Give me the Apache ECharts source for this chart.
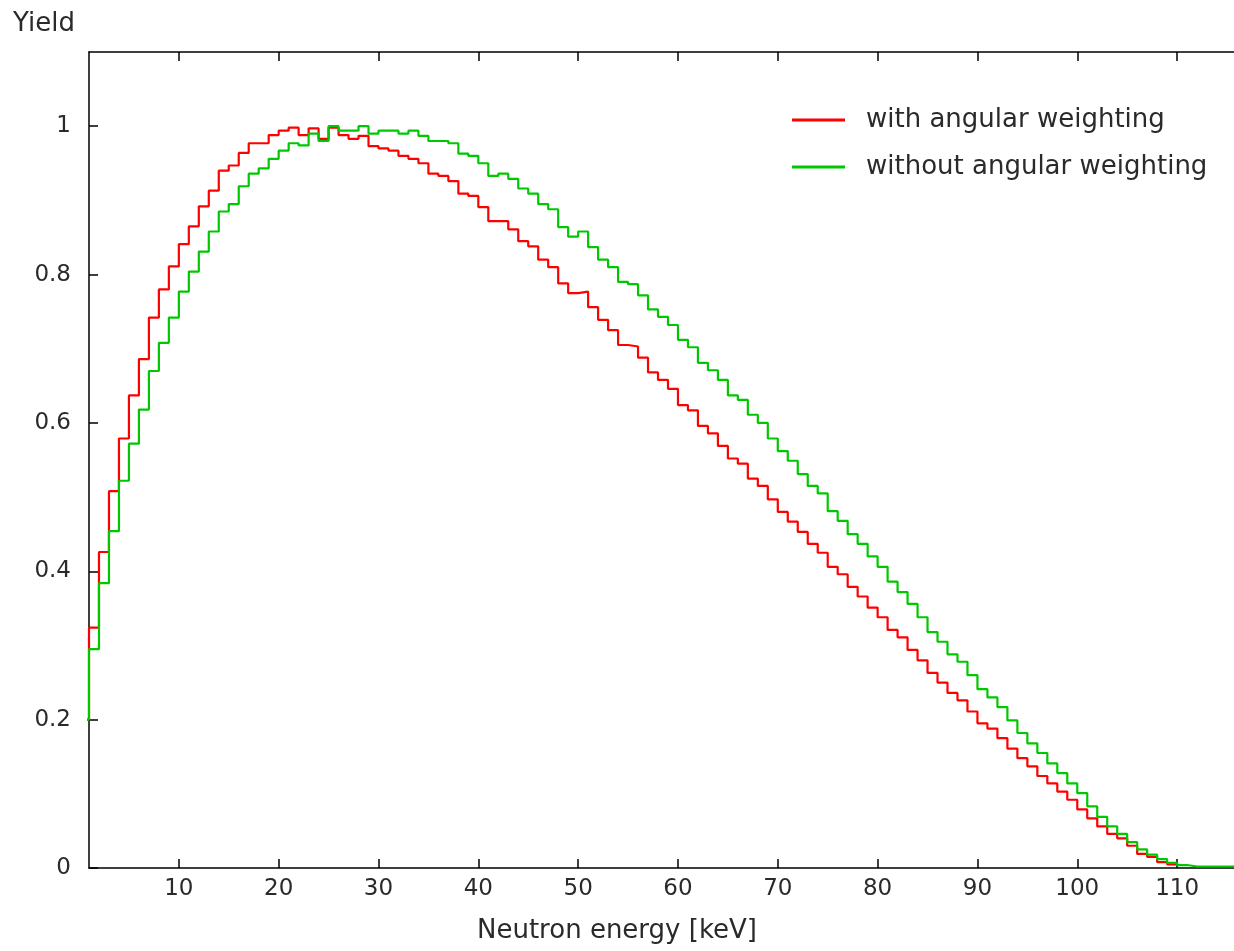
<!DOCTYPE html>
<html><head><meta charset="utf-8">
<script src="https://cdn.jsdelivr.net/npm/echarts@6/dist/echarts.min.js"></script>
<style>html,body{margin:0;padding:0;background:#fff}#c{width:1234px;height:951px}</style>
</head><body><div id="c"></div>
<script>
// Histogram bins: bin i spans [binStart + i*binWidth, binStart + (i+1)*binWidth] keV
const binStart = 0;
const binWidth = 1;

const seriesNames = ['with angular weighting', 'without angular weighting'];

const withAngular = [
  0.200, 0.324, 0.426, 0.508, 0.579, 0.637, 0.686, 0.742, 0.780, 0.811,
  0.841, 0.865, 0.892, 0.913, 0.940, 0.947, 0.964, 0.977, 0.977, 0.988,
  0.994, 0.998, 0.988, 0.997, 0.983, 0.998, 0.988, 0.983, 0.987, 0.973,
  0.970, 0.967, 0.960, 0.956, 0.950, 0.936, 0.933, 0.926, 0.909, 0.906,
  0.891, 0.872, 0.872, 0.861, 0.845, 0.838, 0.820, 0.810, 0.788, 0.775,
  0.777, 0.756, 0.739, 0.725, 0.705, 0.703, 0.688, 0.668, 0.658, 0.646,
  0.624, 0.617, 0.596, 0.586, 0.569, 0.552, 0.545, 0.525, 0.515, 0.497,
  0.480, 0.467, 0.453, 0.437, 0.425, 0.406, 0.396, 0.379, 0.366, 0.351,
  0.338, 0.321, 0.311, 0.294, 0.280, 0.263, 0.250, 0.236, 0.226, 0.211,
  0.195, 0.188, 0.175, 0.161, 0.148, 0.137, 0.124, 0.114, 0.103, 0.092,
  0.079, 0.067, 0.056, 0.046, 0.040, 0.030, 0.019, 0.015, 0.008, 0.005
];

const withoutAngular = [
  0.200, 0.295, 0.384, 0.454, 0.522, 0.572, 0.618, 0.670, 0.708, 0.742,
  0.777, 0.804, 0.831, 0.858, 0.885, 0.895, 0.919, 0.936, 0.943, 0.956,
  0.967, 0.977, 0.974, 0.990, 0.980, 1.000, 0.994, 0.994, 1.000, 0.990,
  0.994, 0.994, 0.990, 0.994, 0.987, 0.980, 0.980, 0.977, 0.963, 0.960,
  0.950, 0.933, 0.936, 0.929, 0.916, 0.909, 0.895, 0.888, 0.864, 0.851,
  0.858, 0.837, 0.820, 0.810, 0.790, 0.787, 0.772, 0.753, 0.743, 0.732,
  0.712, 0.702, 0.681, 0.671, 0.658, 0.637, 0.631, 0.611, 0.600, 0.579,
  0.562, 0.549, 0.531, 0.515, 0.505, 0.481, 0.468, 0.450, 0.437, 0.420,
  0.406, 0.386, 0.372, 0.356, 0.338, 0.318, 0.305, 0.288, 0.278, 0.260,
  0.241, 0.230, 0.217, 0.199, 0.182, 0.168, 0.155, 0.141, 0.128, 0.114,
  0.101, 0.083, 0.069, 0.056, 0.046, 0.035, 0.025, 0.018, 0.012, 0.007,
  0.004, 0.002, 0.002, 0.002, 0.002, 0.002, 0.002, 0.002
];

const xTicks = [10, 20, 30, 40, 50, 60, 70, 80, 90, 100, 110];
const yTicks = [0, 0.2, 0.4, 0.6, 0.8, 1];
const xMin = 1, xMax = 115.7;
const yMin = 0, yMax = 1.1;

function toSteps(vals) {
  const pts = vals.map((v, i) => [binStart + i * binWidth, v]);
  pts.push([binStart + vals.length * binWidth, vals[vals.length - 1]]);
  return pts;
}

const FONT = 'DejaVu Sans';
const TXT = '#2a2a2a';
const AX = {color: '#000', width: 1.5};
const chart = echarts.init(document.getElementById('c'), null, {renderer: 'canvas'});
chart.setOption({
  animation: false,
  backgroundColor: '#fff',
  title: [
    {text: 'Yield', left: 13, top: 11, padding: 0,
     textStyle: {fontFamily: FONT, fontSize: 26, fontWeight: 'normal', color: TXT}},
    {text: 'Neutron energy [keV]', left: 477, top: 918, padding: 0,
     textStyle: {fontFamily: FONT, fontSize: 26, fontWeight: 'normal', color: TXT}}
  ],
  grid: {left: 89, right: 0, top: 52, bottom: 83},
  legend: {
    orient: 'vertical', left: 792, top: 107, padding: 0,
    icon: 'rect', itemWidth: 53, itemHeight: 3, itemGap: 21,
    textStyle: {fontFamily: FONT, fontSize: 26, lineHeight: 26, color: TXT, padding: [0, 0, 0, 16]},
    data: seriesNames
  },
  xAxis: [
    {type: 'value', min: xMin, max: xMax, position: 'bottom',
     axisLine: {show: true, onZero: false, lineStyle: AX}, splitLine: {show: false},
     axisTick: {inside: true, length: 9, lineStyle: AX, customValues: xTicks},
     axisLabel: {customValues: xTicks, fontFamily: FONT, fontSize: 23, color: TXT, margin: 10}},
    {type: 'value', min: xMin, max: xMax, position: 'top',
     axisLine: {show: true, onZero: false, lineStyle: AX}, splitLine: {show: false},
     axisTick: {inside: true, length: 9, lineStyle: AX, customValues: xTicks},
     axisLabel: {show: false}}
  ],
  yAxis: {
    type: 'value', min: yMin, max: yMax,
    axisLine: {show: true, onZero: false, lineStyle: AX}, splitLine: {show: false},
    axisTick: {inside: true, length: 9, lineStyle: AX, customValues: yTicks},
    axisLabel: {customValues: yTicks, fontFamily: FONT, fontSize: 23, color: TXT, margin: 18}
  },
  series: [
    {name: seriesNames[0], type: 'line', step: 'end', showSymbol: false, symbol: 'none',
     data: toSteps(withAngular), color: '#ff0000', lineStyle: {color: '#ff0000', width: 2.2}},
    {name: seriesNames[1], type: 'line', step: 'end', showSymbol: false, symbol: 'none',
     data: toSteps(withoutAngular), color: '#00c800', lineStyle: {color: '#00c800', width: 2.2}}
  ]
});
</script></body></html>
